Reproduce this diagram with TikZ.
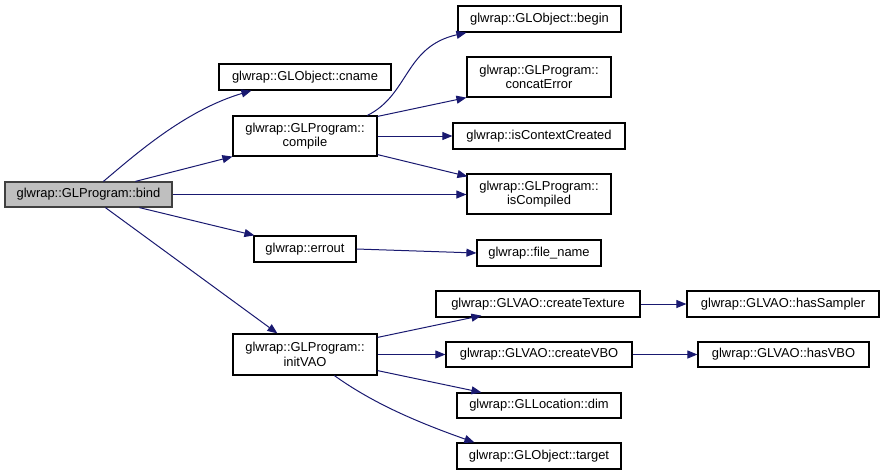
\documentclass[tikz,border=0pt]{standalone}
\usepackage{fontspec}
\setmainfont{Liberation Sans}
\usetikzlibrary{arrows.meta,calc}
\definecolor{edgeblue}{RGB}{25,25,112}
\tikzset{
  box/.style={draw=black, line width=0.9pt, fill=white, inner sep=0pt, align=center,
    font=\fontsize{9.7pt}{11pt}\selectfont},
  rootbox/.style={box, fill=black!25, draw=black!75},
  call/.style={draw=edgeblue, line width=0.75pt, -{Triangle[length=7.5pt,width=6pt]}}
}
\begin{document}
\begin{tikzpicture}[x=0.75pt,y=-0.75pt]
\useasboundingbox (0,0) rectangle (884,475);
% nodes
\node[rootbox, minimum width=125.25pt, minimum height=18.75pt] (bind) at (88.5,194.5) {glwrap::GLProgram::bind};
\node[box, minimum width=129pt, minimum height=19.5pt] (cname) at (305,77) {glwrap::GLObject::cname};
\node[box, minimum width=108pt, minimum height=30pt] (compile) at (305,136) {glwrap::GLProgram::\\compile};
\node[box, minimum width=76.5pt, minimum height=19.5pt] (errout) at (305,249) {glwrap::errout};
\node[box, minimum width=108pt, minimum height=30.75pt] (initVAO) at (305,354.5) {glwrap::GLProgram::\\initVAO};
\node[box, minimum width=122.25pt, minimum height=19.5pt] (begin) at (539.5,19) {glwrap::GLObject::begin};
\node[box, minimum width=108pt, minimum height=30pt] (concat) at (539,77) {glwrap::GLProgram::\\concatError};
\node[box, minimum width=129pt, minimum height=19.5pt] (isctx) at (539,136) {glwrap::isContextCreated};
\node[box, minimum width=108pt, minimum height=30pt] (iscomp) at (539,194) {glwrap::GLProgram::\\isCompiled};
\node[box, minimum width=93pt, minimum height=19.5pt] (fname) at (539,253) {glwrap::file\_name};
\node[box, minimum width=153pt, minimum height=19.5pt] (ctex) at (538,304) {glwrap::GLVAO::createTexture};
\node[box, minimum width=144pt, minimum height=19.5pt] (hsamp) at (783,304) {glwrap::GLVAO::hasSampler};
\node[box, minimum width=139.5pt, minimum height=18.75pt] (cvbo) at (539,354.5) {glwrap::GLVAO::createVBO};
\node[box, minimum width=128.25pt, minimum height=18.75pt] (hvbo) at (783.5,354.5) {glwrap::GLVAO::hasVBO};
\node[box, minimum width=123pt, minimum height=18.75pt] (dim) at (539,405.5) {glwrap::GLLocation::dim};
\node[box, minimum width=123pt, minimum height=19.5pt] (target) at (539,456) {glwrap::GLObject::target};
% edges
\draw[call] ($(bind.north west)+(99,0)$) .. controls +(31,-26) and +(-67,20) .. ($(cname.south west)+(33,0)$);
\draw[call] ($(bind.north west)+(131,0)$) -- (compile.south west);
\draw[call] (bind.east) -- (bind.east -| iscomp.west);
\draw[call] ($(bind.south west)+(135,0)$) -- ($(errout.north west)+(1,0)$);
\draw[call] ($(bind.south west)+(101,0)$) -- ($(initVAO.north west)+(45,0)$);
\draw[call] ($(compile.north west)+(135,0)$) .. controls +(42,-21) and +(-62,14) .. ($(begin.south west)+(9,0)$);
\draw[call] ($(compile.north east)+(0,1)$) -- (concat.south west);
\draw[call] (compile.east) -- (isctx.west);
\draw[call] ($(compile.south east)+(0,-2)$) -- ($(iscomp.north west)+(1,3)$);
\draw[call] (errout.east) -- (fname.west);
\draw[call] ($(initVAO.north east)+(0,4)$) -- ($(ctex.south west)+(46,-2)$);
\draw[call] (initVAO.east) -- (cvbo.west);
\draw[call] ($(initVAO.south east)+(0,-5)$) -- ($(dim.north west)+(25,0)$);
\draw[call] ($(initVAO.south west)+(102,0)$) .. controls +(35,25) and +(-65,-23) .. ($(target.north west)+(18,0)$);
\draw[call] (ctex.east) -- (hsamp.west);
\draw[call] (cvbo.east) -- (hvbo.west);
\end{tikzpicture}
\end{document}
